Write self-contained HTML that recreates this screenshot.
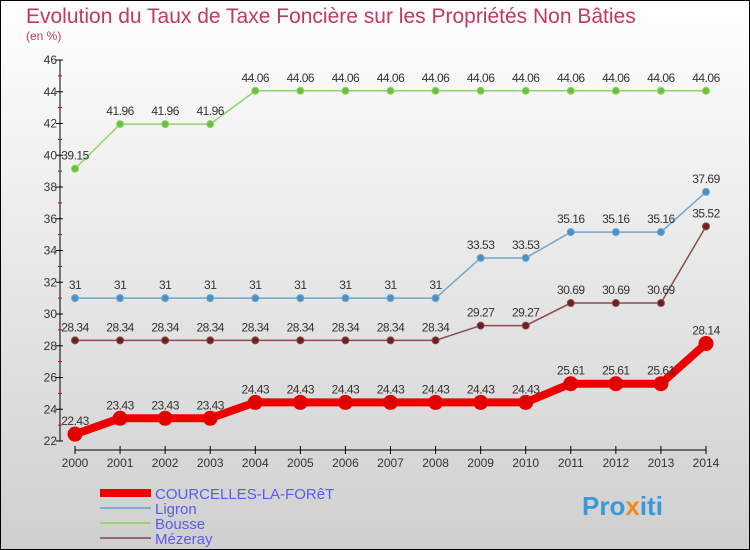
<!DOCTYPE html>
<html><head><meta charset="utf-8"><style>
body{margin:0}
svg{display:block;font-family:"Liberation Sans",sans-serif}
</style></head><body>
<svg width="750" height="550" viewBox="0 0 750 550">
<defs><linearGradient id="bg" x1="0" y1="0" x2="0" y2="1"><stop offset="0" stop-color="#ffffff"/><stop offset="1" stop-color="#cfcfcf"/></linearGradient></defs>
<rect x="0.5" y="0.5" width="749" height="549" fill="url(#bg)" stroke="#000"/>
<text x="26" y="23" font-size="21" fill="#c0395e">Evolution du Taux de Taxe Foncière sur les Propriétés Non Bâties</text>
<text x="26" y="40" font-size="12" fill="#c0395e">(en %)</text>
<g id="axes"></g>
<g id="series"></g>
<g id="legend"></g>
<text x="582" y="515" font-size="26" font-weight="bold" fill="#3a9ad9">Pro<tspan fill="#f08a1c">x</tspan>iti</text>
</svg>
<script>
const years=[2000,2001,2002,2003,2004,2005,2006,2007,2008,2009,2010,2011,2012,2013,2014];
const yTicks=[22,24,26,28,30,32,34,36,38,40,42,44,46];
const courcelles=[22.43,23.43,23.43,23.43,24.43,24.43,24.43,24.43,24.43,24.43,24.43,25.61,25.61,25.61,28.14];
const ligron=[31,31,31,31,31,31,31,31,31,33.53,33.53,35.16,35.16,35.16,37.69];
const bousse=[39.15,41.96,41.96,41.96,44.06,44.06,44.06,44.06,44.06,44.06,44.06,44.06,44.06,44.06,44.06];
const mezeray=[28.34,28.34,28.34,28.34,28.34,28.34,28.34,28.34,28.34,29.27,29.27,30.69,30.69,30.69,35.52];
const NS="http://www.w3.org/2000/svg";
const X=i=>75+i*(706-75)/(years.length-1);
const Y=v=>441-(v-22)*(381/24);
function mk(t,a,p){const e=document.createElementNS(NS,t);for(const k in a)e.setAttribute(k,a[k]);p.appendChild(e);return e;}
const ax=document.getElementById('axes');
let l=mk('line',{x1:60,y1:60,x2:60,y2:441,stroke:'#000'},ax);


yTicks.forEach(v=>{
 mk('line',{x1:56,x2:63,y1:Y(v),y2:Y(v),stroke:'#000'},ax);
 if(v<46)mk('line',{x1:58,x2:62,y1:Y(v+1),y2:Y(v+1),stroke:'#e00'},ax);
 const t=mk('text',{x:57,y:Y(v)+4,'text-anchor':'end','font-size':12,fill:'#333'},ax);t.textContent=v;
 
 
});
l=mk('line',{x1:75,y1:450,x2:706,y2:450,stroke:'#000'},ax);


years.forEach((y,i)=>{
 mk('line',{x1:X(i),x2:X(i),y1:446,y2:454,stroke:'#000'},ax);
 const t=mk('text',{x:X(i),y:467,'text-anchor':'middle','font-size':12,fill:'#333'},ax);t.textContent=y;
 
 
});
const sg=document.getElementById('series');
function series(data,name,color,dot,w,r){
 const g=mk('g',{},sg);
 
 
 mk('polyline',{points:data.map((v,i)=>X(i)+','+Y(v)).join(' '),fill:'none',stroke:color,'stroke-width':w},g);
 data.forEach((v,i)=>{
  const c=mk('circle',{cx:X(i),cy:Y(v),r:r,fill:dot,stroke:color,'stroke-width':1},g);
  
  
  const t=mk('text',{x:X(i),y:Y(v)-9,'text-anchor':'middle','font-size':12,fill:'#333','letter-spacing':'-0.5'},g);
  t.textContent=String(v);
  
  
 });
}
series(bousse,'bousse','#8fd46a','#6cc13c',1.5,3.5);
series(ligron,'ligron','#6ea7cf','#4d8fc2',1.5,3.5);
series(mezeray,'mezeray','#8a4b4b','#6e2020',1.5,3.5);
series(courcelles,'courcelles','#ee0000','#e00000',8,7);
const lg=document.getElementById('legend');
[['COURCELLES-LA-FORêT','#ee0000',8,493],['Ligron','#7aaed2',2,508],['Bousse','#99d67a',2,523],['Mézeray','#9a6a6a',2,538]].forEach(d=>{
 const g=mk('g',{},lg);
 
 
 mk('line',{x1:100,x2:151,y1:d[3],y2:d[3],stroke:d[1],'stroke-width':d[2]},g);
 const t=mk('text',{x:155,y:d[3]+6,'font-size':15,fill:'#5a5af0'},g);t.textContent=d[0];
});
</script>
</body></html>
